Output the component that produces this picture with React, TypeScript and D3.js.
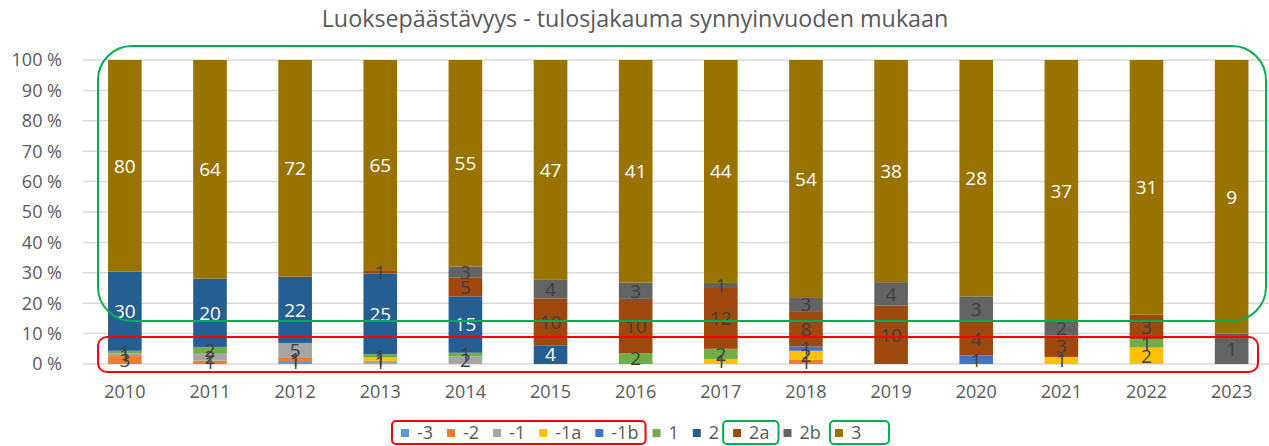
import React from "react";
import * as d3 from "d3";

// Data (counts per result category)
const years = ["2010", "2011", "2012", "2013", "2014", "2015", "2016", "2017", "2018", "2019", "2020", "2021", "2022", "2023"];
const categories = ["-3", "-2", "-1", "-1a", "-1b", "1", "2", "2a", "2b", "3"];

const valsM3 = [0, 0, 1, 0, 0, 0, 0, 0, 0, 0, 0, 0, 0, 0];
const valsM2 = [3, 1, 1, 0, 0, 0, 0, 0, 1, 0, 0, 0, 0, 0];
const valsM1 = [1, 2, 5, 1, 2, 0, 0, 0, 0, 0, 0, 0, 0, 0];
const valsM1a = [0, 0, 0, 1, 0, 0, 0, 1, 2, 0, 0, 1, 2, 0];
const valsM1b = [0, 0, 0, 0, 0, 0, 0, 0, 1, 0, 1, 0, 0, 0];
const vals1 = [1, 2, 0, 1, 1, 0, 2, 2, 0, 0, 0, 0, 1, 0];
const vals2 = [30, 20, 22, 25, 15, 4, 0, 0, 0, 0, 0, 0, 0, 0];
const vals2a = [0, 0, 0, 1, 5, 10, 10, 12, 8, 10, 4, 3, 3, 0];
const vals2b = [0, 0, 0, 0, 3, 4, 3, 1, 3, 4, 3, 2, 0, 1];
const vals3 = [80, 64, 72, 65, 55, 47, 41, 44, 54, 38, 28, 37, 31, 9];

const seriesValues = [valsM3, valsM2, valsM1, valsM1a, valsM1b, vals1, vals2, vals2a, vals2b, vals3];
const colors = ["#5B9BD5", "#ED7D31", "#A5A5A5", "#FFC000", "#4472C4", "#70AD47", "#255E91", "#9E480E", "#636363", "#997300"];
const whiteLabels = ["2", "3"];

const yTicks = [0, 0.1, 0.2, 0.3, 0.4, 0.5, 0.6, 0.7, 0.8, 0.9, 1];

const W = 1269;
const H = 446;
const FONT = "'Open Sans', sans-serif";

export default function App() {
  // percent table
  const rows = years.map((y, i) => {
    const total = d3.sum(seriesValues, (s) => s[i]);
    const r: any = { year: y };
    categories.forEach((c, k) => {
      r[c] = seriesValues[k][i] / total;
      r[c + "_n"] = seriesValues[k][i];
    });
    return r;
  });

  const stack = d3.stack<any>().keys(categories);
  const layers = stack(rows);

  const x = d3.scaleBand().domain(years).range([82.5, 1274]).paddingInner(0.605).paddingOuter(0.3);
  const y = d3.scaleLinear().domain([0, 1]).range([364, 60]);

  // legend layout (approximate text widths)
  const legendFont = 18;
  const charW = (t: string) => t.split("").reduce((a, ch) => a + (ch === "-" ? 0.32 : ch === "a" ? 0.56 : ch === "b" ? 0.62 : 0.572), 0) * legendFont;
  let lx = 401;
  const legendItems = categories.map((c, k) => {
    const item = { c, k, x: lx };
    lx += 8 + 8 + charW(c) + 14;
    return item;
  });
  const legendPos = (c: string) => legendItems.find((d) => d.c === c)!;

  return (
    <svg width={W} height={H} style={{ position: "absolute", left: 0, top: 0, background: "#fff" }}>
      <text x={635} y={27} textAnchor="middle" fontFamily={FONT} fontSize={23.3} fill="#595959">
        Luoksepäästävyys - tulosjakauma synnyinvuoden mukaan
      </text>

      {yTicks.map((t) => (
        <g key={t}>
          <line x1={83} x2={1269} y1={y(t)} y2={y(t)} stroke="#D9D9D9" strokeWidth={1.5} />
          <text x={62} y={y(t)} dy="0.36em" textAnchor="end" fontFamily={FONT} fontSize={18} fill="#595959">
            {Math.round(t * 100) + " %"}
          </text>
        </g>
      ))}

      {layers.map((layer, k) => (
        <g key={layer.key} fill={colors[k]}>
          {layer.map((d, i) =>
            d[1] - d[0] > 0 ? (
              <rect key={i} x={x(years[i])} width={x.bandwidth()} y={y(d[1])} height={y(d[0]) - y(d[1])} />
            ) : null
          )}
        </g>
      ))}

      {layers.map((layer) => (
        <g key={layer.key + "lbl"}>
          {layer.map((d, i) => {
            const n = (d.data as any)[layer.key + "_n"];
            if (!n) return null;
            return (
              <text
                key={i}
                x={(x(years[i]) as number) + x.bandwidth() / 2}
                y={y((d[0] + d[1]) / 2)}
                dy="0.36em"
                textAnchor="middle"
                fontFamily={FONT}
                fontSize={19}
                fill={whiteLabels.includes(layer.key as string) ? "#FFFFFF" : "#404040"}
              >
                {n}
              </text>
            );
          })}
        </g>
      ))}

      {years.map((yr) => (
        <text key={yr} x={(x(yr) as number) + x.bandwidth() / 2} y={392} dy="0.36em" textAnchor="middle" fontFamily={FONT} fontSize={18} fill="#595959">
          {yr}
        </text>
      ))}

      {legendItems.map((d) => (
        <g key={d.c} transform={`translate(${d.x},${433})`}>
          <rect x={0} y={-4} width={8} height={8} fill={colors[d.k]} />
          <text x={16} y={0} dy="0.36em" fontFamily={FONT} fontSize={legendFont} fill="#595959">
            {d.c}
          </text>
        </g>
      ))}

      {/* annotation outlines */}
      <rect x={98} y={46} width={1168} height={275} rx={34} fill="none" stroke="#00B050" strokeWidth={2} />
      <rect x={98} y={337} width={1160} height={35} rx={9} fill="none" stroke="#FF0000" strokeWidth={2} />
      <rect x={392} y={421} width={(legendPos("-1b").x + 16 + charW("-1b") + 7) - 392} height={23} rx={4} fill="none" stroke="#FF0000" strokeWidth={2} />
      <rect x={legendPos("2a").x - 10} y={421} width={16 + charW("2a") + 19} height={23} rx={4} fill="none" stroke="#00B050" strokeWidth={2} />
      <rect x={legendPos("3").x - 5} y={421} width={59} height={23} rx={4} fill="none" stroke="#00B050" strokeWidth={2} />
    </svg>
  );
}
